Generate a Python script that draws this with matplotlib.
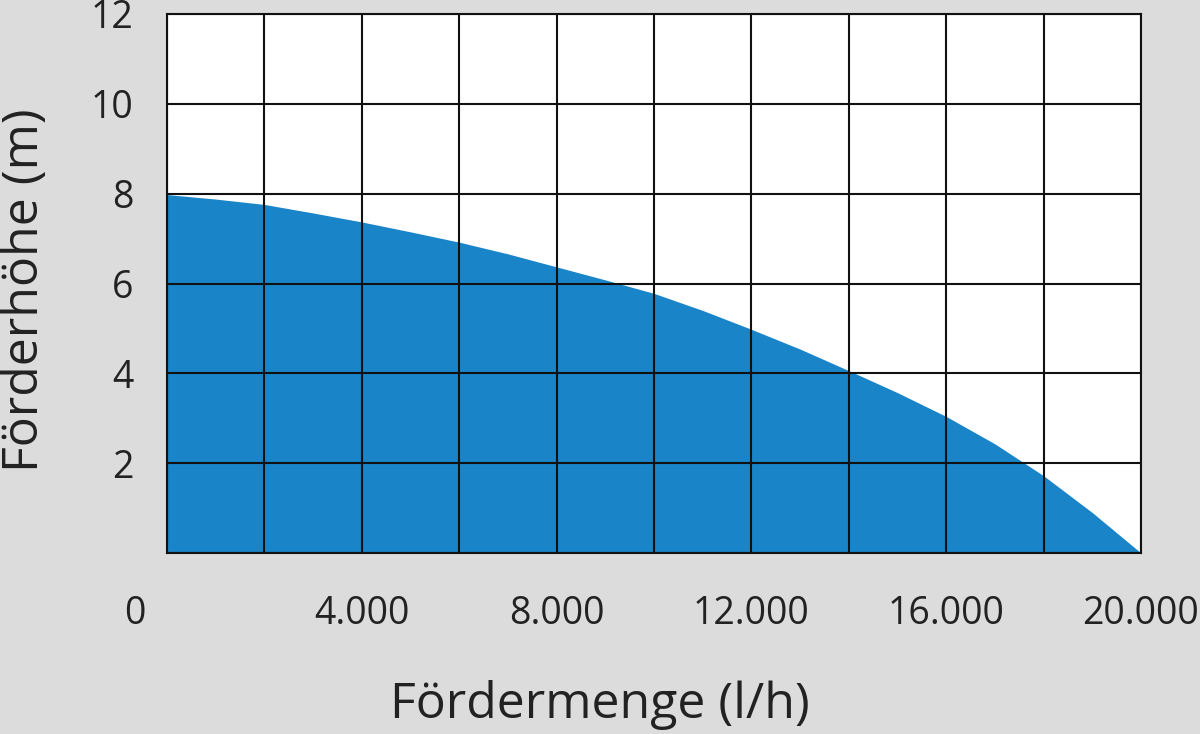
import matplotlib
matplotlib.use('Agg')
import matplotlib.pyplot as plt
import matplotlib.transforms as mtransforms

# pump curve
flow = [0, 1000, 2000, 3000, 4000, 5000, 6000, 7000, 8000, 9000, 10000,
        11000, 12000, 13000, 14000, 15000, 16000, 17000, 18000, 19000, 20000]
head = [7.98, 7.88, 7.76, 7.57, 7.37, 7.15, 6.92, 6.66, 6.37, 6.08, 5.78,
        5.40, 4.98, 4.54, 4.06, 3.57, 3.04, 2.43, 1.72, 0.90, 0.0]

x_grid = list(range(0, 20001, 2000))
x_labels = ['0', '', '4.000', '', '8.000', '', '12.000', '', '16.000', '', '20.000']
y_grid = list(range(0, 13, 2))
y_labels = ['', '2', '4', '6', '8', '10', '12']

bg = '#dcdcdc'
blue = '#1985c8'
txt = '#222222'

plt.rcParams['font.family'] = ['Open Sans', 'DejaVu Sans']

fig = plt.figure(figsize=(12, 7.34), dpi=100, facecolor=bg)
ax = fig.add_axes([167 / 1200, 1 - 553 / 734, (1141 - 167) / 1200, (553 - 14) / 734])
ax.set_facecolor('white')

ax.fill_between(flow, head, 0, color=blue, lw=0, zorder=1)

ax.set_xlim(0, 20000)
ax.set_ylim(0, 12)
ax.set_xticks(x_grid)
ax.set_xticklabels(x_labels, fontsize=27, color=txt)
ax.set_yticks(y_grid)
ax.set_yticklabels(y_labels, fontsize=27, color=txt)
ax.tick_params(axis='x', length=0, pad=30)
ax.tick_params(axis='y', length=0, pad=24)
ax.grid(True, color='#111111', lw=1.5, zorder=2)
ax.set_axisbelow(False)
for s in ax.spines.values():
    s.set_color('#111111')
    s.set_linewidth(1.5)
    s.set_zorder(3)

# the "0" sits left of the axis corner in the original
zero_lbl = ax.get_xticklabels()[0]
zero_lbl.set_transform(zero_lbl.get_transform() +
                       mtransforms.ScaledTranslation(-32 / 100, 0, fig.dpi_scale_trans))

fig.text(0.5, 1 - 705 / 734, 'Fördermenge (l/h)', ha='center', va='center',
         fontsize=36, color=txt)
fig.text(25 / 1200, 1 - 290 / 734, 'Förderhöhe (m)', ha='center', va='center',
         rotation=90, fontsize=36, color=txt)

fig.savefig('out.png', dpi=100, facecolor=bg)
